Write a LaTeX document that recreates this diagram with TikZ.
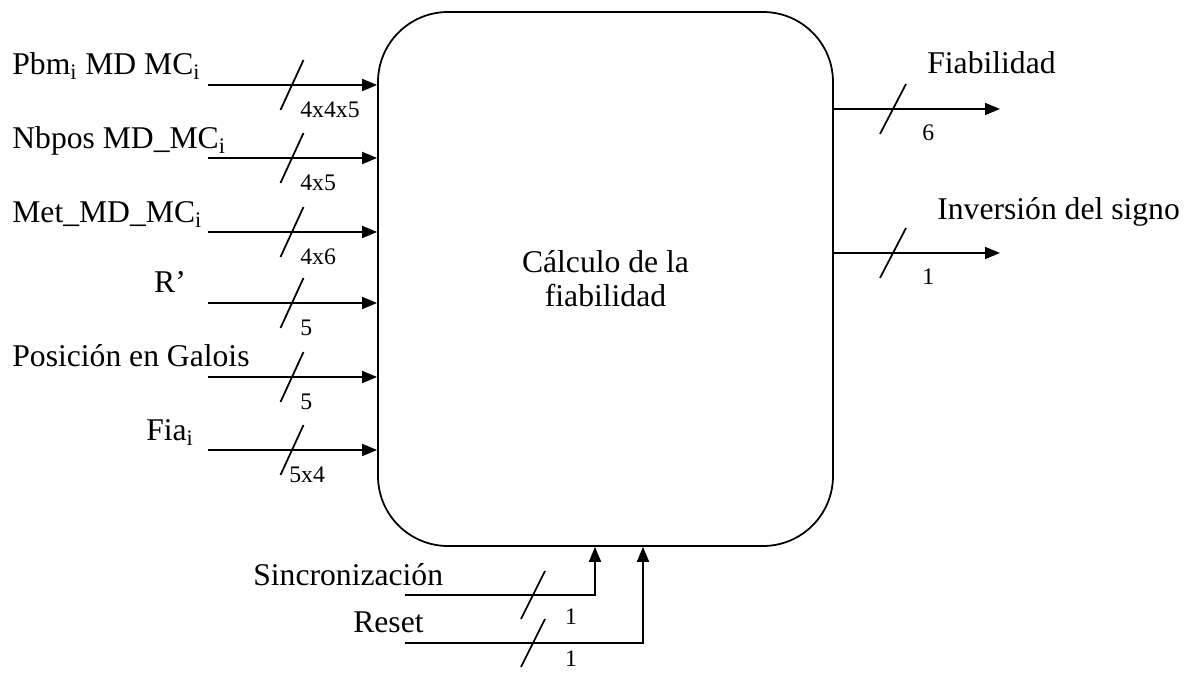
\documentclass[tikz,border=0pt]{standalone}
\usepackage{fontspec}
\setmainfont{Liberation Serif}
\usepackage{tikz}
\usetikzlibrary{arrows.meta,positioning,calc}

\begin{document}
\begin{tikzpicture}[
  sig/.style={-{Triangle[length=0.3cm,width=0.24cm]}, line width=1pt},
  slash/.style={line width=1pt},
  lbl/.style={inner sep=0pt, font=\fontsize{18}{21}\selectfont},
  wlbl/.style={inner sep=0pt, font=\fontsize{13.5}{15}\selectfont}
]
\useasboundingbox (0,0) rectangle (23.72,13.48);

%─── Main block ───────────────────────────────────────────────────────────
\node[draw, line width=1pt, rounded corners=1.4cm,
      minimum width=9.1cm, minimum height=10.68cm, align=center,
      font=\fontsize{18}{19.5}\selectfont] (blk) at (12.11,7.90)
  {Cálculo de la\\fiabilidad};

%─── Inputs ───────────────────────────────────────────────────────────────
% Pbm
\coordinate (pbm) at (4.16,11.78);
\draw[sig] (pbm) -- (pbm -| blk.west);
\draw[slash] (5.61,11.28) -- (6.07,12.28);
\node[wlbl, anchor=west] (pbmw) at (6.0,11.28) {4x4x5};
\node[lbl, anchor=base west] (pbml) at (0.24,11.98)
  {Pbm\textsubscript{i} MD MC\textsubscript{i}};

% Nbpos
\coordinate (nbp) at (4.16,10.32);
\draw[sig] (nbp) -- (nbp -| blk.west);
\draw[slash] (5.61,9.82) -- (6.07,10.82);
\node[wlbl, anchor=west] (nbpw) at (6.0,9.82) {4x5};
\node[lbl, anchor=base west] (nbpl) at (0.24,10.50)
  {Nbpos MD\_MC\textsubscript{i}};

% Met
\coordinate (met) at (4.16,8.84);
\draw[sig] (met) -- (met -| blk.west);
\draw[slash] (5.61,8.34) -- (6.07,9.34);
\node[wlbl, anchor=west] (metw) at (6.0,8.34) {4x6};
\node[lbl, anchor=base west] (metl) at (0.24,9.02)
  {Met\_MD\_MC\textsubscript{i}};

% R'
\coordinate (rpr) at (4.16,7.42);
\draw[sig] (rpr) -- (rpr -| blk.west);
\draw[slash] (5.61,6.92) -- (6.07,7.92);
\node[wlbl, anchor=west] (rprw) at (6.0,6.92) {5};
\node[lbl, anchor=base] (rprl) at (3.4,7.62) {R’};

% Galois
\coordinate (gal) at (4.16,5.94);
\draw[sig] (gal) -- (gal -| blk.west);
\draw[slash] (5.61,5.44) -- (6.07,6.44);
\node[wlbl, anchor=west] (galw) at (6.0,5.44) {5};
\node[lbl, anchor=base west] (gall) at (0.24,6.14) {Posición en Galois};

% Fia
\coordinate (fia) at (4.16,4.48);
\draw[sig] (fia) -- (fia -| blk.west);
\draw[slash] (5.61,3.98) -- (6.07,4.98);
\node[wlbl, anchor=west] (fiaw) at (5.78,3.98) {5x4};
\node[lbl, anchor=base] (fial) at (3.4,4.66) {Fia\textsubscript{i}};

%─── Outputs ──────────────────────────────────────────────────────────────
\coordinate (fib) at (20.0,11.30);
\draw[sig] (blk.east |- fib) -- (fib);
\draw[slash] (17.60,10.80) -- (18.12,11.80);
\node[wlbl, anchor=west] (fibw) at (18.44,10.82) {6};
\node[lbl, anchor=base west] (fibl) at (18.54,12.0) {Fiabilidad};

\coordinate (inv) at (20.0,8.42);
\draw[sig] (blk.east |- inv) -- (inv);
\draw[slash] (17.60,7.92) -- (18.12,8.92);
\node[wlbl, anchor=west] (invw) at (18.44,7.94) {1};
\node[lbl, anchor=base west] (invl) at (18.74,9.08) {Inversión del signo};

%─── Control ──────────────────────────────────────────────────────────────
\coordinate (sinc) at (8.1,1.58);
\coordinate (sincup) at (11.9,0);
\draw[sig] (sinc) -| (sincup |- blk.south);
\draw[slash] (10.42,1.10) -- (10.90,2.06);
\node[wlbl] (sincw) at (11.42,1.14) {1};
\node[lbl, anchor=base west] (sincl) at (5.06,1.76) {Sincronización};

\coordinate (rst) at (8.1,0.62);
\coordinate (rstup) at (12.86,0);
\draw[sig] (rst) -| (rstup |- blk.south);
\draw[slash] (10.42,0.14) -- (10.90,1.10);
\node[wlbl] (rstw) at (11.42,0.30) {1};
\node[lbl, anchor=base west] (rstl) at (7.06,0.82) {Reset};

\end{tikzpicture}
\end{document}
